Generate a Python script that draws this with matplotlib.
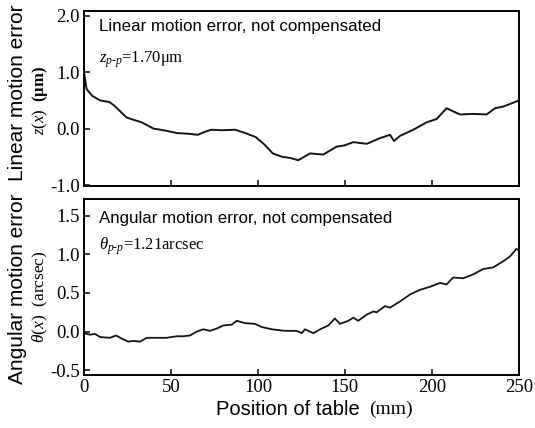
import matplotlib
matplotlib.use("Agg")
import matplotlib.pyplot as plt

plt.rcParams['mathtext.fontset'] = 'custom'
plt.rcParams['mathtext.rm'] = 'Liberation Serif'
plt.rcParams['mathtext.it'] = 'Liberation Serif:italic'
plt.rcParams['mathtext.bf'] = 'Liberation Serif:bold'

# ---- data ----
lin_x = [0, 1.5, 4.7, 9.2, 14.5, 16.9, 20, 24.3, 28, 33.2, 39.9, 45.8, 53.6, 59.5,
         65.4, 69.3, 73.2, 79.1, 86.9, 92.8, 98.7, 103.6, 108.5, 114, 118.4, 123.2,
         129.9, 137.5, 145.2, 149.5, 154.8, 162.5, 170.1, 175.9, 178.2, 181.6,
         189.3, 196.9, 202.7, 208.4, 216.1, 223.7, 231.4, 236.2, 241.0, 247.7, 250]
lin_y = [1.0, 0.70, 0.58, 0.50, 0.47, 0.42, 0.33, 0.20, 0.16, 0.11, 0.0, -0.03,
         -0.08, -0.09, -0.11, -0.06, -0.02, -0.03, -0.02, -0.08, -0.15, -0.28,
         -0.44, -0.50, -0.52, -0.56, -0.44, -0.46, -0.32, -0.30, -0.24, -0.27,
         -0.17, -0.11, -0.22, -0.13, -0.02, 0.11, 0.17, 0.36, 0.25, 0.26, 0.25,
         0.36, 0.39, 0.47, 0.50]

ang_x = [0, 3.4, 6.3, 9.2, 14.9, 18.4, 21.7, 25.5, 28.3, 32.2, 36.0, 41.8, 47.5,
         53.3, 57.1, 60.9, 64.8, 68.6, 72.4, 76.3, 80.1, 84.9, 87.8, 92.5, 98.3,
         102.1, 107.9, 115.5, 122.2, 125.1, 127.0, 131.8, 136.6, 140.5, 144.2,
         147.1, 151.9, 154.8, 157.6, 162.5, 166.3, 168.2, 173.0, 175.9, 181.6,
         187.4, 193.1, 198.9, 204.6, 208.4, 212.2, 218.0, 223.7, 229.5, 235.2,
         241.0, 244.8, 246.7, 248.5, 250]
ang_y = [-0.02, -0.04, -0.03, -0.07, -0.08, -0.05, -0.09, -0.13, -0.12, -0.13,
         -0.08, -0.08, -0.08, -0.06, -0.06, -0.05, 0.0, 0.03, 0.01, 0.04, 0.08,
         0.09, 0.14, 0.11, 0.10, 0.06, 0.03, 0.01, 0.01, -0.02, 0.03, -0.02, 0.04,
         0.08, 0.17, 0.10, 0.14, 0.18, 0.14, 0.22, 0.26, 0.25, 0.33, 0.31, 0.39,
         0.48, 0.54, 0.58, 0.63, 0.61, 0.70, 0.69, 0.74, 0.81, 0.83, 0.91, 0.97,
         1.02, 1.07, 1.05]

x_ticks = [0, 50, 100, 150, 200, 250]
top_yticks = [-1.0, 0.0, 1.0, 2.0]
top_ylabels = ['-1.0', '0.0', '1.0', '2.0']
bot_yticks = [-0.5, 0.0, 0.5, 1.0, 1.5]
bot_ylabels = ['-0.5', '0.0', '0.5', '1.0', '1.5']

fig = plt.figure(figsize=(5.35, 4.28), dpi=100)
ax1 = fig.add_axes([0.157, 0.565, 0.813, 0.409])
ax2 = fig.add_axes([0.157, 0.124, 0.813, 0.412])

serif = 'Liberation Serif'
sans = 'Liberation Sans'
line_col = '#151515'

for ax in (ax1, ax2):
    ax.set_xlim(0, 250)
    ax.set_xticks(x_ticks)
    ax.tick_params(direction='in', length=4, width=1.1, labelsize=13.5, pad=3)
    for s in ax.spines.values():
        s.set_linewidth(1.4)

ax1.plot(lin_x, lin_y, color=line_col, lw=1.4)
ax1.set_ylim(-1.02, 2.08)
ax1.set_yticks(top_yticks)
ax1.set_yticklabels(top_ylabels, fontfamily=serif)
ax1.set_xticklabels([])
ax1.text(0.034, 0.955, 'Linear motion error, not compensated', transform=ax1.transAxes,
         fontsize=12.2, fontfamily=sans, va='top')
ax1.text(0.034, 0.78, r'$z_{p\text{-}p}$=1.70μm', transform=ax1.transAxes,
         fontsize=12, fontfamily=serif, va='top')

ax2.plot(ang_x, ang_y, color=line_col, lw=1.3)
ax2.set_ylim(-0.56, 1.72)
ax2.set_yticks(bot_yticks)
ax2.set_yticklabels(bot_ylabels, fontfamily=serif)
ax2.set_xticklabels([str(v) for v in x_ticks], fontfamily=serif)
ax2.text(0.034, 0.93, 'Angular motion error, not compensated', transform=ax2.transAxes,
         fontsize=12.2, fontfamily=sans, va='top')
ax2.text(0.034, 0.79, r'$\theta_{p\text{-}p}$=1.21arcsec', transform=ax2.transAxes,
         fontsize=12, fontfamily=serif, va='top')

# y labels
fig.text(0.032, 0.783, 'Linear motion error', rotation=90, ha='center', va='center',
         fontsize=15, fontfamily=sans)
fig.text(0.075, 0.766, r'$z(x)$  $\mathbf{(\mu m)}$', rotation=90, ha='center', va='center',
         fontsize=12, fontfamily=serif)
fig.text(0.032, 0.325, 'Angular motion error', rotation=90, ha='center', va='center',
         fontsize=15, fontfamily=sans)
fig.text(0.075, 0.307, r'$\theta(x)$  (arcsec)', rotation=90, ha='center', va='center',
         fontsize=12.5, fontfamily=serif)

# x label
fig.text(0.673, 0.043, 'Position of table', ha='right', va='center', fontsize=14.5,
         fontfamily=sans)
fig.text(0.690, 0.043, '(mm)', ha='left', va='center', fontsize=14, fontfamily=serif)

fig.savefig('out.png', dpi=100)
